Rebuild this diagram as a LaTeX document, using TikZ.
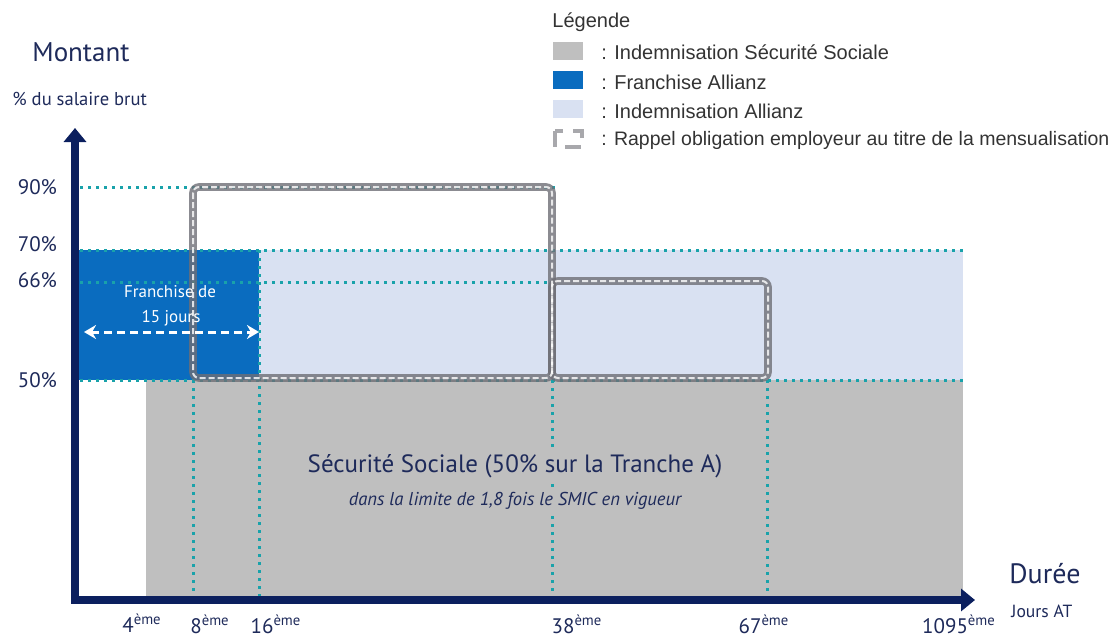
\documentclass[tikz,border=0pt]{standalone}
\usepackage{fontspec}
\setmainfont{PT Sans}
\newfontfamily\legfont{Liberation Sans}
\usetikzlibrary{arrows.meta}
\definecolor{navy}{HTML}{0B1F5E}
\definecolor{txtnavy}{HTML}{1E2A5A}
\definecolor{ssgray}{HTML}{BFBFBF}
\definecolor{fblue}{HTML}{0A6CBF}
\definecolor{lblue}{HTML}{D9E1F2}
\definecolor{guideteal}{HTML}{19A2AA}
\definecolor{legtxt}{HTML}{333333}
\definecolor{rectgray}{HTML}{6E6E75}
\begin{document}
\begin{tikzpicture}[x=0.5pt,y=-0.5pt,
  guide/.style={guideteal, line width=1.5pt, dash pattern=on 1.5pt off 2.5pt},
  rectout/.style={rectgray, draw opacity=0.8, line width=3.8pt, rounded corners=3pt},
  rectin/.style={white, draw opacity=0.8, line width=1pt, dash pattern=on 3pt off 1.5pt, rounded corners=3pt},
  axis/.style={navy, line width=4pt, line join=miter},
  ylab/.style={text=txtnavy, font=\fontsize{10.5}{12}\selectfont, anchor=east},
  tick/.style={text=txtnavy, font=\fontsize{10.5}{12}\selectfont, anchor=base},
  leg/.style={text=legtxt, font=\legfont\fontsize{10}{12}\selectfont, anchor=west, inner sep=0pt},
  swatch/.style={minimum width=15pt, minimum height=9pt, inner sep=0pt, anchor=west}
]
\useasboundingbox (0,0) rectangle (1116,637);

% coordinates
\coordinate (ytop) at (75,128);
\coordinate (origin) at (75,600);
\coordinate (xend) at (975,600);

% areas
\fill[ssgray] (146,380) rectangle (963,597);
\fill[lblue] (259,250) rectangle (963,380);
\fill[fblue] (78,250) rectangle (259,380);

% guide lines
\draw[guide] (80,187) -- (556,187);
\draw[guide] (80,250) -- (965,250);
\draw[guide] (80,282) -- (552,282);
\draw[guide] (80,380) -- (965,380);
\draw[guide] (193,380) -- (193,597);
\draw[guide] (259,250) -- (259,597);
\draw[guide] (552,380) -- (552,597);
\draw[guide] (767,380) -- (767,597);

% employer obligation rectangles
\draw[rectout] (193,187) rectangle (552,378);
\draw[rectout] (552,281) rectangle (768,378);
\draw[rectin] (193,187) rectangle (552,378);
\draw[rectin] (552,281) rectangle (768,378);

% franchise text and arrow
\node[text=white, font=\fontsize{8.5}{10}\selectfont] (fr1) at (170,292) {Franchise de};
\node[text=white, font=\fontsize{8.5}{10}\selectfont] (fr2) at (171,318) {15 jours};
\coordinate (fra) at (84,332);
\coordinate (frb) at (259,332);
\draw[white, line width=1.5pt, dash pattern=on 4pt off 2.5pt, {Stealth[length=6pt,width=7pt]}-{Stealth[length=6pt,width=7pt]}] (fra) -- (frb);

% securite sociale text
\node[fill=ssgray, inner sep=1pt, text=txtnavy, font=\fontsize{12.5}{14}\selectfont] (ss) at (515,466) {Sécurité Sociale (50\% sur la Tranche A)};
\node[fill=ssgray, inner sep=1pt, text=txtnavy, font=\itshape\fontsize{9.3}{11}\selectfont] (ssb) at (515,501) {dans la limite de 1,8 fois le SMIC en vigueur};

% axes
\draw[axis, {Triangle[length=7pt,width=11pt]}-{Triangle[length=7pt,width=11pt]}] (ytop) -- (origin) -- (xend);

% axis labels
\node[text=txtnavy, font=\fontsize{13.5}{16}\selectfont, anchor=west, inner sep=0pt] (mont) at (32,52) {Montant};
\node[text=txtnavy, font=\fontsize{9.3}{11}\selectfont, anchor=west, inner sep=0pt] (pct) at (12,99) {\% du salaire brut};
\node[text=txtnavy, font=\fontsize{14}{16}\selectfont, anchor=west, inner sep=0pt] (duree) at (1009,574) {Durée};
\node[text=txtnavy, font=\fontsize{8.8}{10}\selectfont, anchor=west, inner sep=0pt] (jours) at (1011,611) {Jours AT};

\node[ylab] (p90) at (64,187) {90\%};
\node[ylab] (p70) at (64,244) {70\%};
\node[ylab] (p66) at (64,280) {66\%};
\node[ylab] (p50) at (64,380) {50\%};

\node[tick] (t4) at (142,632) {4\textsuperscript{ème}};
\node[tick] (t8) at (210,633) {8\textsuperscript{ème}};
\node[tick] (t16) at (276,633) {16\textsuperscript{ème}};
\node[tick] (t38) at (577,633) {38\textsuperscript{ème}};
\node[tick] (t67) at (764,633) {67\textsuperscript{ème}};
\node[tick] (t1095) at (959,633) {1095\textsuperscript{ème}};

% legend
\node[leg] (legt) at (552,22) {Légende};
\node[swatch, fill=ssgray] (sw1) at (553,51) {};
\node[swatch, fill=fblue] (sw2) at (553,80) {};
\node[swatch, fill=lblue] (sw3) at (553,109) {};
\coordinate (sw4a) at (555,131);
\coordinate (sw4b) at (582,147);
\draw[rectgray!60, line width=1.8pt, dash pattern=on 8pt off 5pt] (sw4a) rectangle (sw4b);
\node[leg] (l1) at (601,52) {: Indemnisation Sécurité Sociale};
\node[leg] (l2) at (601,82) {: Franchise Allianz};
\node[leg] (l3) at (601,111) {: Indemnisation Allianz};
\node[leg, font=\legfont\fontsize{9.75}{12}\selectfont] (l4) at (601,140) {: Rappel obligation employeur au titre de la mensualisation};
\end{tikzpicture}
\end{document}
